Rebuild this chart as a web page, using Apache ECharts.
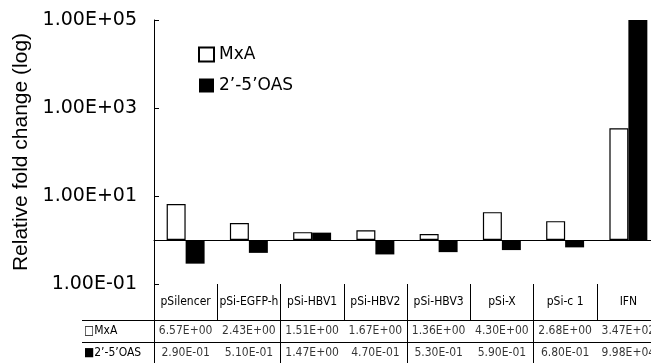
<!DOCTYPE html>
<html>
<head>
<meta charset="utf-8">
<script src="https://cdn.jsdelivr.net/npm/echarts@6/dist/echarts.min.js"></script>
<style>
  html, body { margin: 0; padding: 0; background: #fff; }
  #chart { width: 651px; height: 363px; }
</style>
</head>
<body>
<div id="chart"></div>
<script>
// data (fold change, relative)
const categories = ['pSilencer', 'pSi-EGFP-h', 'pSi-HBV1', 'pSi-HBV2', 'pSi-HBV3', 'pSi-X', 'pSi-c 1', 'IFN'];
const mxa = [6.57, 2.43, 1.51, 1.67, 1.36, 4.30, 2.68, 347];
const oas = [0.29, 0.51, 1.47, 0.47, 0.53, 0.59, 0.68, 99800];
const seriesNames = ['MxA', '2\u2019-5\u2019OAS'];
const tickExps = [-1, 1, 3, 5];   // 1.00E-01 ... 1.00E+05

const condensed = '"DejaVu Sans Condensed", "DejaVu Sans", sans-serif';
const dejavu = '"DejaVu Sans", sans-serif';

function pad2(n) { return (n < 10 ? '0' : '') + n; }
function sci(v) {
    let s = v.toExponential(2).split('e');
    let e = parseInt(s[1], 10);
    return s[0] + 'E' + (e < 0 ? '-' : '+') + pad2(Math.abs(e));
}

const rowCells = [];
mxa.forEach(function (v, i) { rowCells.push([i, 0, v]); });
oas.forEach(function (v, i) { rowCells.push([i, 1, v]); });

let myChart
function draw() {
    // the plot runs a little past the right edge of the page, as in the figure
    let option = {
        animation: false,
        grid: [
            { left: 154, width: 506, top: 20, bottom: 79, outerBoundsMode: 'none' },
            { left: 154, width: 506, top: 284, height: 36, outerBoundsMode: 'none' },
            { left: 154, width: 506, top: 320, height: 44, outerBoundsMode: 'none' }
        ],
        legend: {
            orient: 'vertical',
            left: 193,
            top: 41,
            itemWidth: 15,
            itemHeight: 14,
            itemGap: 14,
            icon: 'rect',
            data: seriesNames,
            textStyle: { fontFamily: dejavu, fontSize: 17, color: '#000' }
        },
        xAxis: [
            {
                type: 'category', gridIndex: 0, data: categories,
                axisLine: { onZero: true, lineStyle: { color: '#000', width: 1 } },
                axisTick: { show: false },
                axisLabel: { show: false }
            },
            {
                type: 'category', gridIndex: 1, data: categories, position: 'top',
                axisLine: { show: true, lineStyle: { color: '#000', width: 1 } },
                axisTick: { show: false },
                splitLine: { show: true, lineStyle: { color: '#000', width: 1 } },
                axisLabel: {
                    inside: true, margin: 18, verticalAlign: 'middle',
                    fontFamily: condensed, fontSize: 12, color: '#000', interval: 0
                }
            },
            {
                type: 'category', gridIndex: 2, data: categories,
                axisLine: { show: false },
                axisTick: { show: false },
                axisLabel: { show: false },
                splitLine: { show: true, lineStyle: { color: '#000', width: 1 } }
            }
        ],
        yAxis: [
            {
                type: 'value', gridIndex: 0, min: -1, max: 5,
                name: 'Relative fold change (log)',
                nameLocation: 'middle',
                nameGap: 118,
                nameTextStyle: { fontFamily: '"Liberation Sans", Arial, sans-serif', fontSize: 21, color: '#000' },
                axisLine: { show: true, lineStyle: { color: '#000', width: 1 } },
                axisTick: { show: true, inside: true, length: 5, customValues: tickExps, lineStyle: { color: '#000' } },
                splitLine: { show: false },
                axisLabel: {
                    customValues: tickExps, margin: 17,
                    fontFamily: dejavu, fontSize: 19, color: '#000',
                    formatter: function (t) { return '1.00E' + (t < 0 ? '-' : '+') + pad2(Math.abs(t)); }
                }
            },
            { type: 'value', gridIndex: 1, show: false },
            {
                type: 'category', gridIndex: 2, data: seriesNames, inverse: true,
                axisLine: { show: true, lineStyle: { color: '#000', width: 1 } },
                axisTick: { show: true, length: 72, lineStyle: { color: '#000', width: 1 } },
                splitLine: { show: true, lineStyle: { color: '#000', width: 1 } },
                axisLabel: {
                    align: 'left', margin: 70,
                    fontFamily: condensed, fontSize: 12, color: '#000',
                    formatter: function (v) { return (v === 'MxA' ? '\u25A1' : '\u25A0') + v; }
                }
            },
            {
                type: 'category', gridIndex: 2, data: seriesNames, offset: 72,
                axisLine: { show: true, lineStyle: { color: '#000', width: 1 } },
                axisTick: { show: false },
                axisLabel: { show: false }
            }
        ],
        series: [
            {
                name: seriesNames[0],
                type: 'bar',
                xAxisIndex: 0, yAxisIndex: 0,
                barGap: '0%',
                barCategoryGap: '40%',
                itemStyle: { color: '#fff', borderColor: '#000', borderWidth: 1.2 },
                data: mxa.map(function (v) { return Math.log10(v); })
            },
            {
                name: seriesNames[1],
                type: 'bar',
                xAxisIndex: 0, yAxisIndex: 0,
                barGap: '0%',
                barCategoryGap: '40%',
                itemStyle: { color: '#000' },
                data: oas.map(function (v) { return Math.log10(v); })
            },
            {
                name: 'table',
                type: 'scatter',
                xAxisIndex: 2, yAxisIndex: 2,
                symbolSize: 0,
                label: {
                    show: true, position: 'inside',
                    fontFamily: condensed, fontSize: 12, color: '#000',
                    formatter: function (p) { return sci(p.value[2]); }
                },
                data: rowCells
            }
        ]
    };

    myChart = echarts.init(document.getElementById('chart'));
    myChart.setOption(option);

    window.addEventListener('resize', function () {
        myChart.resize();
    }, false)
}

draw();
</script>
</body>
</html>
